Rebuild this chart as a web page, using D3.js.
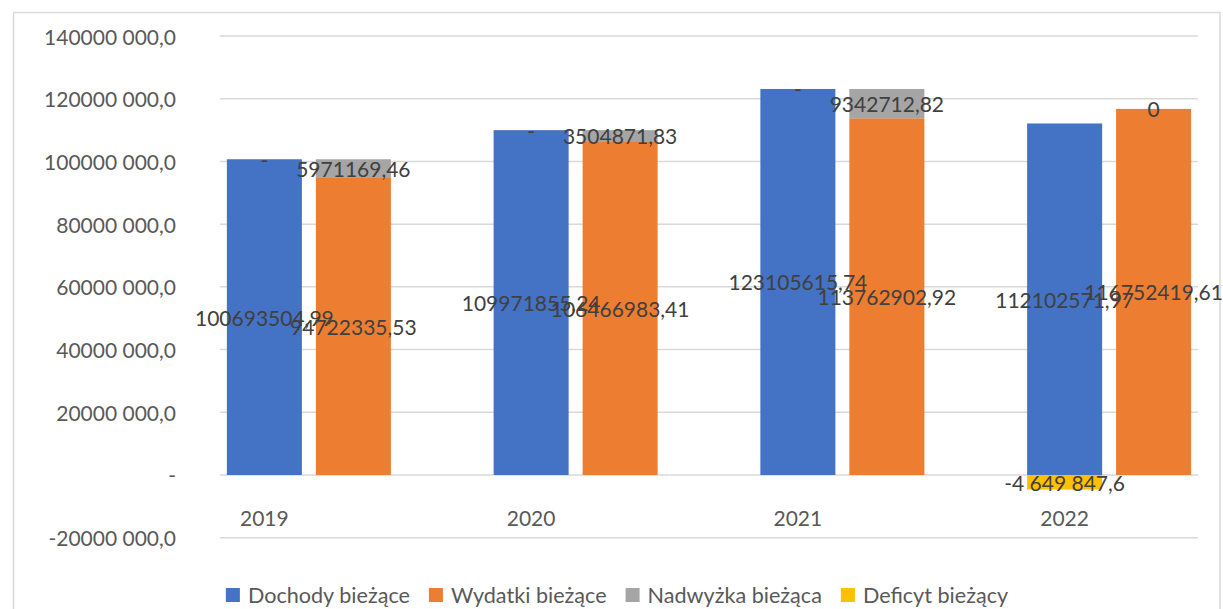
<!DOCTYPE html>
<html>
<head>
<meta charset="utf-8">
<script src="https://cdn.jsdelivr.net/npm/d3@7"></script>
<style>
  html, body { margin: 0; padding: 0; background: #fff; }
  svg { display: block; font-family: Lato, "Open Sans", sans-serif; }
</style>
</head>
<body>
<div id="chart"></div>
<script>
// data
const years = ['2019', '2020', '2021', '2022']
const dochody = [100693504.99, 109971855.24, 123105615.74, 112102571.97]
const wydatki = [94722335.53, 106466983.41, 113762902.92, 116752419.61]
const nadwyzka = [5971169.46, 3504871.83, 9342712.82, 0]
const deficyt = [0, 0, 0, -4649847.6]

const yTicks = [-20000000, 0, 20000000, 40000000, 60000000, 80000000, 100000000, 120000000, 140000000]
const yTickLabels = ['-20000 000,0', '-', '20000 000,0', '40000 000,0', '60000 000,0',
    '80000 000,0', '100000 000,0', '120000 000,0', '140000 000,0']

const seriesNames = ['Dochody bieżące', 'Wydatki bieżące', 'Nadwyżka bieżąca', 'Deficyt bieżący']
const seriesColors = ['#4472C4', '#ED7D31', '#A5A5A5', '#FFC000']

const W = 1223, H = 609
const svg = d3.select('#chart').append('svg').attr('width', W).attr('height', H)

// chart frame
svg.append('rect')
    .attr('x', 13.5).attr('y', 12.5)
    .attr('width', 1206.5).attr('height', 640)
    .attr('fill', 'none').attr('stroke', '#d9d9d9').attr('stroke-width', 1.5)

const plotLeft = 220, plotRight = 1198
let y = d3.scaleLinear().domain([-20000000, 140000000]).range([537.7, 36])
let x = d3.scaleBand().domain(years).range([131, 1198])
let inner = d3.scaleBand().domain(['s1', 's2']).range([0, 164]).paddingInner(0.157)

// gridlines
svg.append('g').selectAll('line')
    .data(yTicks)
    .enter().append('line')
    .attr('x1', plotLeft).attr('x2', plotRight)
    .attr('y1', d => y(d)).attr('y2', d => y(d))
    .attr('stroke', '#d9d9d9').attr('stroke-width', 1.5)

// y axis labels
svg.append('g').selectAll('text')
    .data(yTicks)
    .enter().append('text')
    .attr('x', 176)
    .attr('y', d => y(d))
    .attr('text-anchor', 'end')
    .attr('dominant-baseline', 'central')
    .attr('fill', '#595959')
    .style('font-size', '21px')
    .text((d, i) => yTickLabels[i])

// rows for stacking
let rows = years.map((yr, i) => ({
    year: yr, dochody: dochody[i], deficyt: deficyt[i], wydatki: wydatki[i], nadwyzka: nadwyzka[i]
}))

let stack1 = d3.stack().keys(['dochody', 'deficyt']).offset(d3.stackOffsetDiverging)(rows)
let stack2 = d3.stack().keys(['wydatki', 'nadwyzka']).offset(d3.stackOffsetDiverging)(rows)

// zero-height segments sit on top of the first segment (Excel style)
function fixZeros (st) {
    st[1].forEach((d, j) => {
        if (d[0] === 0 && d[1] === 0) { d[0] = st[0][j][1]; d[1] = st[0][j][1] }
    })
}
fixZeros(stack1)
fixZeros(stack2)

const locale = d3.formatLocale({ decimal: ',', thousands: ' ', grouping: [3], currency: ['', ''], minus: '-' })
const fmtGroup = locale.format(',.1f')
const fmtPlain = v => v.toFixed(2).replace('.', ',')

let segments = []
function addSeries (layer, stackKey, color, label) {
    layer.forEach((d, j) => {
        segments.push({ year: years[j], stackKey: stackKey, y0: d[0], y1: d[1], color: color, label: label(d.data[layer.key]) })
    })
}
addSeries(stack1[0], 's1', seriesColors[0], fmtPlain)
addSeries(stack2[0], 's2', seriesColors[1], fmtPlain)
addSeries(stack2[1], 's2', seriesColors[2], v => v === 0 ? '0' : fmtPlain(v))
addSeries(stack1[1], 's1', seriesColors[3], v => v === 0 ? '-' : fmtGroup(v))

function barX (d) {
    return x(d.year) + x.bandwidth() / 2 - inner.bandwidth() / 2 + inner(d.stackKey)
}

svg.append('g').selectAll('rect')
    .data(segments)
    .enter().append('rect')
    .attr('x', d => barX(d))
    .attr('width', inner.bandwidth())
    .attr('y', d => y(Math.max(d.y0, d.y1)))
    .attr('height', d => Math.abs(y(d.y0) - y(d.y1)))
    .attr('fill', d => d.color)

// data labels
svg.append('g').selectAll('text')
    .data(segments)
    .enter().append('text')
    .attr('x', d => barX(d) + inner.bandwidth() / 2)
    .attr('y', d => y((d.y0 + d.y1) / 2))
    .attr('text-anchor', 'middle')
    .attr('dominant-baseline', 'central')
    .attr('fill', '#404040')
    .style('font-size', '21px')
    .text(d => d.label)

// category labels
svg.append('g').selectAll('text')
    .data(years)
    .enter().append('text')
    .attr('x', d => x(d) + x.bandwidth() / 2)
    .attr('y', 517.5)
    .attr('text-anchor', 'middle')
    .attr('dominant-baseline', 'central')
    .attr('fill', '#595959')
    .style('font-size', '21px')
    .text(d => d)

// legend
let legend = svg.append('g')
let lx = 0
seriesNames.forEach((name, i) => {
    let item = legend.append('g').attr('transform', 'translate(' + lx + ',0)')
    item.append('rect').attr('x', 0).attr('y', 588).attr('width', 14).attr('height', 14).attr('fill', seriesColors[i])
    let t = item.append('text')
        .attr('x', 22).attr('y', 595)
        .attr('dominant-baseline', 'central')
        .attr('fill', '#595959')
        .style('font-size', '21.6px')
        .text(name)
    lx += 22 + t.node().getComputedTextLength() + 19
})
let legendW = lx - 19
legend.attr('transform', 'translate(' + (617 - legendW / 2) + ',0)')
</script>
</body>
</html>
